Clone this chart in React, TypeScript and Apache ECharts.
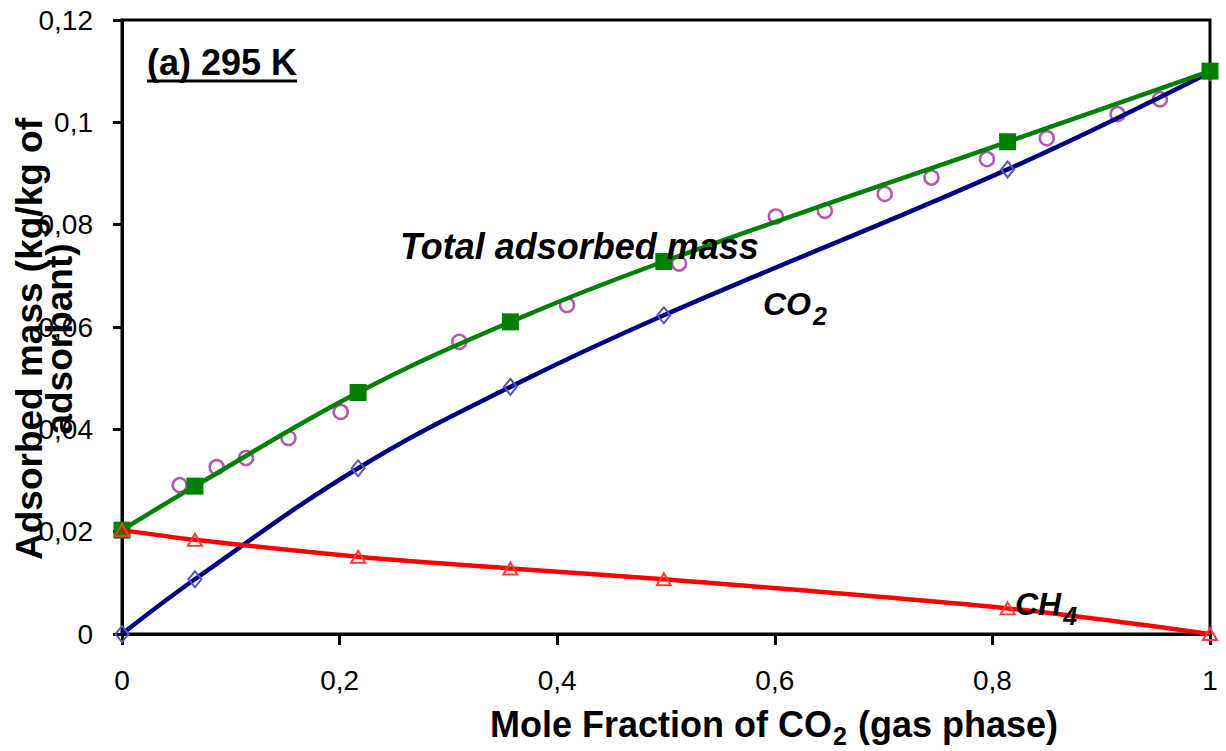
import React, { useEffect, useRef } from "react";
import * as echarts from "echarts";

// ---- data ----
const fitX = [0, 0.067, 0.217, 0.357, 0.498, 0.814, 1];
const totalFit = [0.0203, 0.0289, 0.0472, 0.061, 0.0728, 0.0962, 0.11];
const co2Fit = [0, 0.0107, 0.0324, 0.0483, 0.0623, 0.0908, 0.1098];
const ch4Fit = [0.0203, 0.0184, 0.0151, 0.0128, 0.0107, 0.005, 0];

const expX = [0.053, 0.087, 0.114, 0.153, 0.201, 0.31, 0.409, 0.512, 0.601, 0.646, 0.701, 0.744, 0.795, 0.85, 0.915, 0.954];
const expTotal = [0.0291, 0.0326, 0.0344, 0.0383, 0.0434, 0.0571, 0.0643, 0.0724, 0.0816, 0.0827, 0.086, 0.0892, 0.0928, 0.0969, 0.1016, 0.1045];

const xTicks = { min: 0, max: 1, interval: 0.2 };
const yTicks = { min: 0, max: 0.12, interval: 0.02 };

const panelTitle = "(a) 295 K";
const totalLabel = "Total adsorbed mass";
const xTitle = ["Mole Fraction of CO", "2", " (gas phase)"];
const yTitle = ["Adsorbed mass (kg/kg of", "adsorbant)"];

const FF = "'Liberation Sans', Arial, sans-serif";

function measure(text: string, font: string): number {
  const c = document.createElement("canvas").getContext("2d");
  if (!c) return text.length * 10;
  c.font = font;
  return c.measureText(text).width;
}

const C = 0.3465; // central baseline offset (em) above alphabetic

function txt(text: string, left: number, baseline: number, size: number, style: string, extra: any = {}) {
  return {
    type: "text",
    x: left,
    y: baseline - C * size,
    z: 100,
    style: {
      text,
      font: `${style} ${size}px ${FF}`,
      fill: "#000",
      textAlign: "left",
      textVerticalAlign: "middle",
      ...extra,
    },
  };
}

export default function App() {
  const ref = useRef<HTMLDivElement>(null);
  useEffect(() => {
    if (!ref.current) return;
    const chart = echarts.init(ref.current, null, { renderer: "svg" });
    const fmt = (v: number) => String(+v.toFixed(2)).replace(".", ",");

    const titleW = measure(panelTitle, `bold 36px ${FF}`);
    const coW = measure("CO", `italic bold 32px ${FF}`);
    const chW = measure("CH", `italic bold 32px ${FF}`);
    const x1W = measure(xTitle[0], `bold 36px ${FF}`);
    const x2W = measure(xTitle[1], `bold 25px ${FF}`);

    const xl = 490;

    chart.setOption({
      animation: false,
      backgroundColor: "#fff",
      grid: {
        left: 122,
        right: 16,
        top: 20,
        bottom: 117,
        show: true,
        borderColor: "#000",
        borderWidth: 3,
        outerBoundsMode: "none",
      },
      xAxis: {
        type: "value",
        min: xTicks.min,
        max: xTicks.max,
        interval: xTicks.interval,
        splitLine: { show: false },
        axisLine: { show: true, lineStyle: { color: "#000", width: 3 } },
        axisTick: { show: true, inside: false, length: 11, lineStyle: { color: "#000", width: 3 } },
        axisLabel: { margin: 32, color: "#000", fontSize: 28, fontFamily: FF, formatter: fmt },
      },
      yAxis: {
        type: "value",
        min: yTicks.min,
        max: yTicks.max,
        interval: yTicks.interval,
        splitLine: { show: false },
        axisLine: { show: true, lineStyle: { color: "#000", width: 3 } },
        axisTick: { show: true, inside: false, length: 9, lineStyle: { color: "#000", width: 3 } },
        axisLabel: { margin: 29, color: "#000", fontSize: 28, fontFamily: FF, formatter: fmt },
      },
      series: [
        {
          name: "Total (experimental)",
          type: "scatter",
          data: expX.map((x, i) => [x, expTotal[i]]),
          symbol: "circle",
          symbolSize: 14,
          itemStyle: { color: "rgba(255,255,255,0)", borderColor: "#a030a0", borderWidth: 2.5 },
          z: 2,
        },
        {
          name: "CO2",
          type: "line",
          data: fitX.map((x, i) => [x, co2Fit[i]]),
          smooth: 0.4,
          symbol: "diamond",
          symbolSize: [13, 16],
          lineStyle: { color: "#000080", width: 4.5 },
          itemStyle: { color: "rgba(255,255,255,0)", borderColor: "#5656b8", borderWidth: 2 },
          z: 3,
        },
        {
          name: "Total",
          type: "line",
          data: fitX.map((x, i) => [x, totalFit[i]]),
          smooth: 0.4,
          symbol: "rect",
          symbolSize: 17,
          lineStyle: { color: "#008000", width: 4.5 },
          itemStyle: { color: "#008000", borderWidth: 0 },
          z: 4,
        },
        {
          name: "CH4",
          type: "line",
          data: fitX.map((x, i) => [x, ch4Fit[i]]),
          smooth: 0.3,
          symbol: "triangle",
          symbolSize: [14, 12],
          lineStyle: { color: "#ff0000", width: 4.5 },
          itemStyle: { color: "rgba(255,255,255,0)", borderColor: "#ff3a3a", borderWidth: 2 },
          z: 5,
        },
      ],
      graphic: [
        txt(panelTitle, 147, 75, 36, "bold"),
        {
          type: "line",
          z: 100,
          shape: { x1: 147, y1: 81, x2: 147 + titleW, y2: 81 },
          style: { stroke: "#000", lineWidth: 3 },
        },
        txt(totalLabel, 400, 259, 36, "italic bold"),
        txt("CO", 763, 315, 32, "italic bold"),
        txt("2", 763 + coW + 2, 325, 25, "italic bold"),
        txt("CH", 1015, 615, 32, "italic bold"),
        txt("4", 1015 + chW + 2, 625, 25, "italic bold"),
        txt(xTitle[0], xl, 737, 36, "bold"),
        txt(xTitle[1], xl + x1W + 1, 745, 25, "bold"),
        txt(xTitle[2], xl + x1W + x2W + 2, 737, 36, "bold"),
        {
          type: "text",
          x: 42 - C * 37,
          y: 339,
          rotation: Math.PI / 2,
          z: 100,
          style: {
            text: yTitle[0],
            font: `bold 37px ${FF}`,
            fill: "#000",
            textAlign: "center",
            textVerticalAlign: "middle",
          },
        },
        {
          type: "text",
          x: 72 - C * 37,
          y: 339,
          rotation: Math.PI / 2,
          z: 100,
          style: {
            text: yTitle[1],
            font: `bold 37px ${FF}`,
            fill: "#000",
            textAlign: "center",
            textVerticalAlign: "middle",
          },
        },
      ],
    });
    return () => chart.dispose();
  }, []);
  return (
    <div
      ref={ref}
      style={{ position: "fixed", left: 0, top: 0, width: 1226, height: 751, background: "#fff" }}
    />
  );
}
